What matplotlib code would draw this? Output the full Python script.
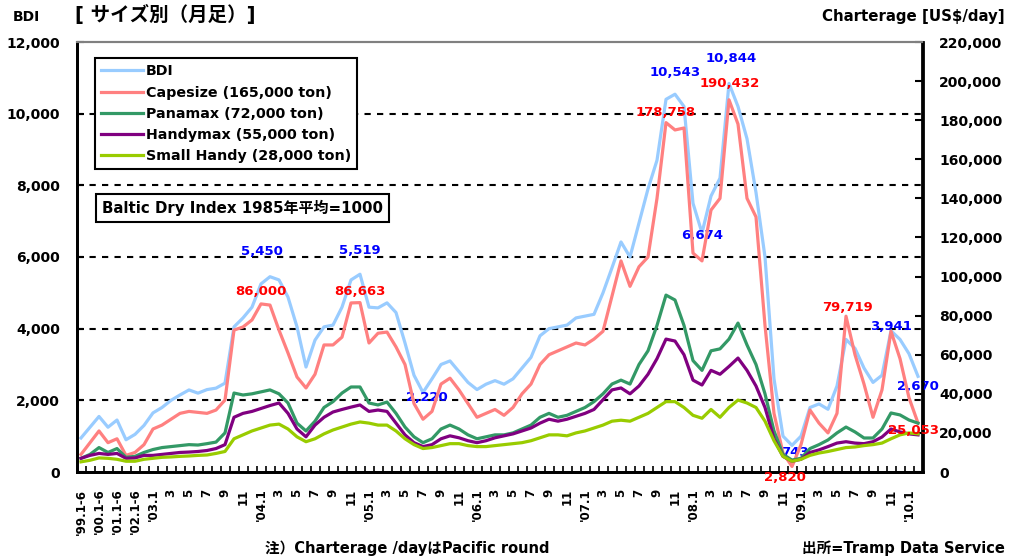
import numpy as np
import matplotlib.pyplot as plt
from matplotlib.ticker import FuncFormatter, FixedLocator

plt.rcParams['font.family'] = ['DejaVu Sans', 'Noto Sans CJK JP']
plt.rcParams['font.weight'] = 'bold'

# 半期平均 ('99-'02) のあとに月次 ('03.1-'10.2)
half_labels = ["'99.1-6", "", "'00.1-6", "", "'01.1-6", "", "'02.1-6", ""]
years = ['03', '04', '05', '06', '07', '08', '09', '10']
n_months_last = 2

# BDI (左軸)
bdi = [950, 1250, 1550, 1250, 1450, 900, 1050, 1300,
       1650, 1800, 2000, 2150, 2290, 2200, 2300, 2340, 2480, 4050, 4300, 4600,
       5250, 5450, 5360, 4880, 4050, 2930, 3680, 4050, 4100, 4600, 5360, 5519,
       4600, 4580, 4720, 4450, 3600, 2700, 2220, 2600, 3000, 3100, 2800, 2500,
       2300, 2450, 2550, 2450, 2600, 2900, 3200, 3800, 4000, 4050, 4100, 4300,
       4350, 4400, 5000, 5700, 6420, 6000, 6950, 7900, 8700, 10400, 10543, 10200,
       7500, 6674, 7700, 8200, 10844, 10200, 9300, 7800, 6000, 2600, 1000, 743,
       1000, 1800, 1900, 1750, 2400, 3700, 3450, 2900, 2500, 2700, 3941, 3700,
       3300, 2670]

# 用船料 US$/day (右軸)
capesize = [9000, 15000, 21000, 15000, 17000, 8500, 10000, 14000,
            22000, 24000, 27000, 30000, 31000, 30500, 30000, 31700, 36800, 72600, 74200, 77800,
            86000, 85400, 72600, 60900, 48600, 43000, 50000, 65000, 65000, 69000, 86500, 86663,
            66000, 71000, 71600, 64000, 55000, 35000, 27000, 31000, 45000, 48000, 42000, 35000,
            28000, 30000, 32000, 29000, 33000, 40000, 45000, 55000, 60000, 62000, 64000, 66000,
            65000, 68000, 72000, 90000, 108000, 95000, 105000, 110000, 140000, 178758, 175000, 176000,
            112000, 108000, 134000, 140000, 190432, 178000, 140000, 130500, 75000, 30000, 9700, 2820,
            14000, 31700, 25000, 20000, 30000, 79719, 60000, 45000, 28000, 42000, 72000, 58000,
            38000, 25053]
panamax = [7000, 9000, 12500, 10000, 12000, 7500, 8000, 10000,
           11500, 12500, 13000, 13500, 14000, 13800, 14500, 15300, 20000, 40400, 39400, 40000,
           41000, 42000, 40000, 35300, 25000, 21000, 26000, 33000, 36000, 40400, 43500, 43500,
           35300, 34300, 35800, 30000, 23000, 18000, 15000, 17000, 22000, 24000, 22000, 19000,
           17000, 18000, 19000, 19000, 20000, 22000, 24000, 28000, 30000, 28000, 29000, 31000,
           33000, 36000, 40000, 45000, 47000, 45000, 55000, 62000, 75000, 90500, 88000, 75000,
           57000, 52000, 62000, 63000, 68000, 76200, 65000, 55000, 40000, 21000, 9000, 6100,
           7000, 12000, 14000, 16400, 20000, 23000, 20500, 17400, 17400, 22000, 30200, 29200,
           26600, 25000]
handymax = [7000, 8500, 9500, 9000, 9500, 7000, 7200, 8500,
            8500, 9000, 9500, 10000, 10200, 10500, 11000, 12000, 14000, 28000, 30000, 31000,
            32500, 34000, 35300, 30000, 22000, 18000, 24000, 28000, 30700, 32000, 33200, 34300,
            31000, 31700, 31000, 25000, 19000, 15000, 13000, 14000, 17000, 18500, 17500, 16000,
            15000, 16000, 17500, 18500, 19500, 21000, 22500, 25000, 27000, 26000, 27000, 28500,
            30000, 32000, 37000, 42000, 43000, 40000, 44000, 50000, 58000, 68000, 67000, 60000,
            47000, 44500, 52000, 50000, 54000, 58300, 52000, 44000, 33000, 17000, 8000, 5500,
            6500, 10000, 11300, 13000, 14800, 15500, 14800, 14500, 15500, 17900, 22000, 20500,
            19500, 19000]
small_handy = [5200, 6000, 7200, 7000, 6500, 5500, 5500, 6500,
               7000, 7500, 7700, 8000, 8200, 8500, 8700, 9500, 10500, 17000, 19000, 21000,
               22500, 24000, 24500, 22000, 18000, 15500, 17000, 19500, 21500, 23000, 24500, 25600,
               25000, 24000, 24000, 21000, 17000, 14000, 12000, 12500, 13500, 14500, 14500, 13500,
               13000, 13000, 13500, 14000, 14500, 15000, 16000, 17500, 19000, 19000, 18500, 20000,
               21000, 22500, 24000, 26000, 26500, 26000, 28000, 30000, 33000, 36000, 36000, 33000,
               29000, 27500, 32000, 28000, 33000, 36800, 35300, 33000, 26000, 16000, 8000, 5500,
               6500, 8500, 9700, 10500, 11500, 12500, 12800, 13500, 14000, 14800, 17000, 19000,
               20000, 19500]

# 数値ラベル: (位置, 値, x/y オフセット[px])
bdi_notes = [(21, 5450, -8, 25), (31, 5519, 0, 24), (38, 2220, 4, -5),
             (66, 10543, 0, 22), (72, 10844, 2, 25), (69, 6674, 0, -3),
             (79, 743, 3, -7), (90, 3941, 0, 4), (93, 2670, 0, -10)]
cape_notes = [(20, 86000, 0, 12), (31, 86663, 0, 11), (65, 178758, 0, 10),
              (72, 190432, 1, 16), (79, 2820, -7, -11), (85, 79719, 2, 9),
              (93, 25053, -4, -7)]

# x軸ラベル
xlabels = list(half_labels)
for y in years:
    last = n_months_last if y == years[-1] else 12
    for m in range(1, last + 1):
        if m == 1:
            xlabels.append("'%s.1" % y)
        elif m % 2 == 1:
            xlabels.append(str(m))
        else:
            xlabels.append('')

x = np.arange(len(bdi))

fig = plt.figure(figsize=(10.09, 5.6), dpi=100)
ax = fig.add_axes([76.5 / 1009, 1 - 472 / 560, 846 / 1009, 430 / 560])
ax2 = ax.twinx()

for v in range(2000, 12000, 2000):
    ax.axhline(v, color='black', lw=1.5, ls=(0, (3, 3)), zorder=0)

l1, = ax.plot(x, bdi, color='#99CCFF', lw=2.3, label='BDI')
l2, = ax2.plot(x, capesize, color='#FF8080', lw=2.3, label='Capesize (165,000 ton)')
l3, = ax2.plot(x, panamax, color='#339966', lw=2.3, label='Panamax (72,000 ton)')
l4, = ax2.plot(x, handymax, color='#800080', lw=2.3, label='Handymax (55,000 ton)')
l5, = ax2.plot(x, small_handy, color='#99CC00', lw=2.3, label='Small Handy (28,000 ton)')

ax.set_xlim(-0.5, len(bdi) - 0.5)
ax.set_ylim(0, 12000)
ax2.set_ylim(0, 220000)
ax.set_yticks(range(0, 12001, 2000))
ax2.set_yticks(range(0, 220001, 20000))
fmt = FuncFormatter(lambda v, p: f'{v:,.0f}')
ax.yaxis.set_major_formatter(fmt)
ax2.yaxis.set_major_formatter(fmt)

ax.set_xticks(x)
ax.set_xticklabels(xlabels, rotation=90, fontsize=8.5, fontweight='bold', va='top')
ax.xaxis.set_minor_locator(FixedLocator(np.arange(-0.5, len(bdi), 1)))
ax.tick_params(axis='x', which='major', length=0, pad=12)
ax.tick_params(axis='x', which='minor', direction='in', length=4, width=1.2)
ax.tick_params(axis='y', direction='in', length=5, width=1.5, labelsize=10, pad=12)
ax2.tick_params(axis='y', direction='in', length=5, width=1.5, labelsize=10, pad=12)

for a in (ax, ax2):
    a.spines['top'].set_color('#808080')
    a.spines['top'].set_linewidth(1.5)
    for s in ('left', 'right', 'bottom'):
        a.spines[s].set_linewidth(2)
        a.spines[s].set_color('black')

for i, v, dx, dy in bdi_notes:
    ax.annotate(f'{v:,}', (i, bdi[i]), xytext=(dx, dy), textcoords='offset pixels',
                ha='center', va='center', color='#0000FF', fontsize=9.5, fontweight='bold')
for i, v, dx, dy in cape_notes:
    ax2.annotate(f'{v:,}', (i, capesize[i]), xytext=(dx, dy), textcoords='offset pixels',
                 ha='center', va='center', color='#FF0000', fontsize=9.5, fontweight='bold',
                 annotation_clip=False)

leg = fig.legend(handles=[l1, l2, l3, l4, l5], loc='upper left',
                 bbox_to_anchor=(95 / 1009, 1 - 58 / 560), fontsize=10.3,
                 handlelength=2.9, handletextpad=0.2, labelspacing=0.5,
                 fancybox=False, edgecolor='black', framealpha=1,
                 borderpad=0.45, borderaxespad=0)
leg.get_frame().set_linewidth(1.5)

fig.text(102 / 1009, 1 - 208 / 560, 'Baltic Dry Index 1985年平均=1000', fontsize=10.8,
         fontweight='bold', va='center',
         bbox=dict(boxstyle='square,pad=0.42', fc='white', ec='black', lw=1.5))

fig.text(26 / 1009, 1 - 17 / 560, 'BDI', fontsize=10, fontweight='bold', ha='center', va='center')
fig.text(75 / 1009, 1 - 15 / 560, '[ サイズ別（月足）]', fontsize=14, fontweight='bold', va='center')
fig.text(1005 / 1009, 1 - 17 / 560, 'Charterage [US$/day]', fontsize=10.8, fontweight='bold',
         ha='right', va='center')
fig.text(265 / 1009, 1 - 548 / 560, '注）Charterage /dayはPacific round', fontsize=10.5,
         fontweight='bold', va='center')
fig.text(1005 / 1009, 1 - 548 / 560, '出所=Tramp Data Service', fontsize=10.5,
         fontweight='bold', ha='right', va='center')

fig.savefig('out.png', dpi=100)
